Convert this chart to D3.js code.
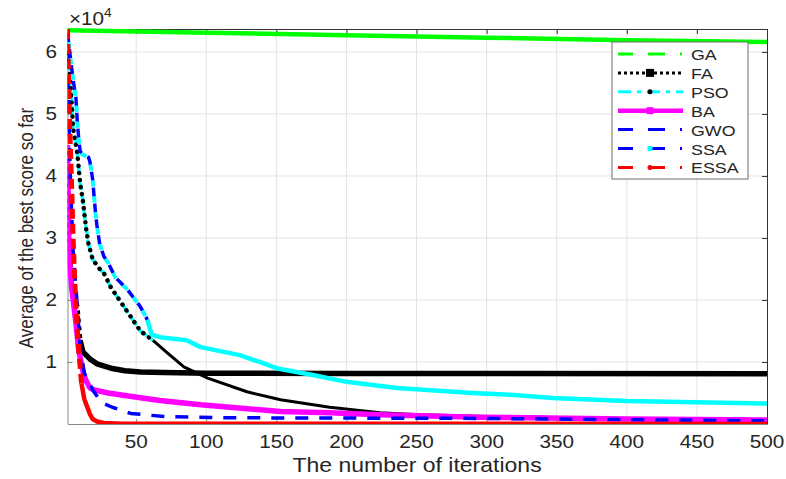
<!DOCTYPE html>
<html lang="en">
<head>
<meta charset="UTF-8">
<title>Convergence curves</title>
<style>
  body { margin: 0; background: #fff; }
  svg { display: block; }
  text { font-family: "Liberation Sans", Arial, sans-serif; fill: #262626; }
</style>
</head>
<body>
<script src="https://cdn.jsdelivr.net/npm/d3@7/dist/d3.min.js"></script>
<script>
const gaIter = [1, 100, 200, 300, 400, 500];
const gaVal = [6.35, 6.31, 6.27, 6.23, 6.19, 6.16];

const faIter = [1, 2, 4, 6, 8, 10, 12, 17, 22, 32, 42, 53, 70, 100, 200, 500];
const faVal = [4.4, 3.1, 2.3, 2.05, 1.9, 1.35, 1.16, 1.05, 0.97, 0.9, 0.86, 0.84, 0.83, 0.82, 0.815, 0.81];

const psoIter = [1, 2, 3, 4, 5, 8, 10, 12, 14, 16, 19, 24, 27, 32, 44, 53, 62, 72, 84, 101, 129, 153, 188, 224, 252, 300, 400, 500];
const psoVal = [6.1, 5.8, 5.5, 5.18, 4.77, 4.37, 3.89, 3.6, 3.2, 2.9, 2.65, 2.5, 2.43, 2.2, 1.8, 1.5, 1.35, 1.15, 0.92, 0.74, 0.52, 0.39, 0.27, 0.18, 0.15, 0.12, 0.09, 0.07];

const baIter = [1, 2, 4, 7, 9, 12, 14, 17, 20, 30, 48, 67, 96, 117, 153, 188, 224, 295, 400, 500];
const baVal = [4.5, 2.8, 2.2, 1.63, 1.19, 0.85, 0.71, 0.58, 0.55, 0.5, 0.44, 0.38, 0.31, 0.27, 0.2, 0.18, 0.15, 0.11, 0.08, 0.065];

const gwoIter = [1, 2, 3, 5, 8, 10, 13, 19, 25, 29, 33, 46, 70, 117, 300, 500];
const gwoVal = [6.0, 5.0, 4.0, 2.8, 1.9, 1.24, 0.82, 0.55, 0.35, 0.31, 0.27, 0.17, 0.12, 0.1, 0.09, 0.05];

const ssaIter = [1, 3, 5, 7, 8, 9, 10, 12, 16, 17, 19, 20, 21, 22, 24, 27, 30, 35, 44, 53, 58, 61, 67, 86, 96, 124, 138, 150, 176, 200, 236, 290, 317, 347, 400, 500];
const ssaVal = [6.3, 5.92, 5.55, 5.26, 4.87, 4.6, 4.4, 4.34, 4.3, 4.23, 3.94, 3.66, 3.4, 3.2, 2.9, 2.7, 2.6, 2.37, 2.16, 1.89, 1.68, 1.44, 1.4, 1.35, 1.24, 1.11, 1.0, 0.9, 0.79, 0.68, 0.58, 0.5, 0.47, 0.42, 0.37, 0.33];

const essaIter = [1, 2, 3, 4, 5, 6, 7, 9, 11, 13, 15, 17, 19, 22, 27, 40, 500];
const essaVal = [6.37, 5.3, 4.5, 3.8, 3.0, 2.4, 1.9, 1.2, 0.65, 0.4, 0.28, 0.16, 0.08, 0.04, 0.015, 0.005, 0.002];

const seriesNames = ['GA', 'FA', 'PSO', 'BA', 'GWO', 'SSA', 'ESSA'];
const iterTicks = [50, 100, 150, 200, 250, 300, 350, 400, 450, 500];
const scoreTicks = [1, 2, 3, 4, 5, 6];

const W = 786, H = 479;
const pl = 67.5, pr = 767, pt = 29, pb = 424;
const sx = 1.15; // the picture's text is a bit wide

const x = d3.scaleLinear().domain([1, 500]).range([pl, pr]);
const y = d3.scaleLinear().domain([0, 6.37]).range([pb, pt]);

const svg = d3.select('body').append('svg')
  .attr('width', W).attr('height', H);

svg.append('defs').append('clipPath').attr('id', 'plot')
  .append('rect').attr('x', pl).attr('y', pt - 3)
  .attr('width', pr - pl + 3).attr('height', pb - pt + 3);

// grid
const grid = svg.append('g').attr('stroke', '#e3e3e3').attr('stroke-width', 1);
grid.selectAll('.gx').data(iterTicks.slice(0, -1)).enter().append('line')
  .attr('x1', d => x(d)).attr('x2', d => x(d)).attr('y1', pt).attr('y2', pb);
grid.selectAll('.gy').data(scoreTicks).enter().append('line')
  .attr('y1', d => y(d)).attr('y2', d => y(d)).attr('x1', pl).attr('x2', pr);

// axes with inward ticks
const xAxis = svg.append('g').attr('transform', `translate(0,${pb})`)
  .call(d3.axisBottom(x).tickValues(iterTicks).tickSizeInner(-5).tickSizeOuter(0).tickFormat(''));
const yAxis = svg.append('g').attr('transform', `translate(${pl},0)`)
  .call(d3.axisLeft(y).tickValues(scoreTicks).tickSizeInner(-5).tickSizeOuter(0).tickFormat(''));
xAxis.selectAll('path,line').attr('stroke', '#8a8a8a');
yAxis.selectAll('path,line').attr('stroke', '#8a8a8a');
const xTop = svg.append('g').attr('transform', `translate(0,${pt})`)
  .call(d3.axisTop(x).tickValues(iterTicks).tickSizeInner(-5).tickSizeOuter(0).tickFormat(''));
const yRight = svg.append('g').attr('transform', `translate(${pr},0)`)
  .call(d3.axisRight(y).tickValues(scoreTicks).tickSizeInner(-5).tickSizeOuter(0).tickFormat(''));
xTop.selectAll('path,line').attr('stroke', '#333');
yRight.selectAll('path,line').attr('stroke', '#333');

// tick labels
svg.append('g').selectAll('text').data(iterTicks).enter().append('text')
  .attr('transform', d => `translate(${x(d)},448) scale(${sx},1)`)
  .attr('text-anchor', 'middle').attr('font-size', 18)
  .text(d => d);
svg.append('g').selectAll('text').data(scoreTicks).enter().append('text')
  .attr('transform', d => `translate(57,${y(d) + 6}) scale(${sx},1)`)
  .attr('text-anchor', 'end').attr('font-size', 18)
  .text(d => d);

const exp = svg.append('text').attr('transform', `translate(69,25) scale(${sx},1)`)
  .attr('font-size', 18);
exp.append('tspan').text('\u00d710');
exp.append('tspan').attr('font-size', 12).attr('dy', -8).text('4');

svg.append('text').attr('transform', `translate(417,472) scale(${sx},1)`)
  .attr('text-anchor', 'middle').attr('font-size', 20)
  .text('The number of iterations');
svg.append('text').attr('transform', `translate(33,228) scale(${sx},1) rotate(-90)`)
  .attr('text-anchor', 'middle').attr('font-size', 17)
  .text('Average of the best score so far');

// curves
const line = d3.line().x(d => x(d.i)).y(d => y(d.v));
const pts = (it, vals) => it.map((d, k) => ({ i: d, v: vals[k] }));
const plot = svg.append('g').attr('clip-path', 'url(#plot)').attr('fill', 'none');

function draw(data, color, width, dash, cap) {
  plot.append('path').datum(data)
    .attr('d', line)
    .attr('stroke', color)
    .attr('stroke-width', width)
    .attr('stroke-dasharray', dash || null)
    .attr('stroke-linecap', cap || 'butt')
    .attr('stroke-linejoin', 'round');
}

const ga = pts(gaIter, gaVal);
const fa = pts(faIter, faVal);
const pso = pts(psoIter, psoVal);
const ba = pts(baIter, baVal);
const gwo = pts(gwoIter, gwoVal);
const ssa = pts(ssaIter, ssaVal);
const essa = pts(essaIter, essaVal);

draw(ga, '#00ff00', 4.5);

draw(fa.filter(d => d.i <= 10), '#000', 4.5, '4,4');
draw(fa.filter(d => d.i >= 10), '#000', 5.5);

draw(pso.filter(d => d.i <= 62), '#00ffff', 3.5, '10,5');
draw(pso.filter(d => d.i <= 62), '#000', 4.5, '0.1,7', 'round');
draw(pso.filter(d => d.i >= 62), '#000', 3);

draw(ba, '#ff00ff', 5.5);

draw(gwo, '#0000ff', 3.5, '13,11');

draw(ssa.filter(d => d.i <= 58), '#0000ff', 3.5, '9,7');
draw(ssa.filter(d => d.i <= 58), '#00ffff', 4, '0,9,6,1');
draw(ssa.filter(d => d.i >= 58), '#00ffff', 4.5);

draw(essa.filter(d => d.i <= 11), '#ff0000', 5, '10,5');
draw(essa.filter(d => d.i >= 11), '#ff0000', 4.5);

// legend
const legendStyle = [
  { color: '#00ff00', width: 3, dash: '15,15,17,15,2', mark: null },
  { color: '#000', width: 3, dash: '3,3', mark: { shape: 'sq', color: '#000', size: 8 } },
  { color: '#00ffff', width: 3, dash: '13,6,4,6', mark: { shape: 'dot', color: '#000', size: 5 } },
  { color: '#ff00ff', width: 4.5, dash: null, mark: { shape: 'sq', color: '#ff00ff', size: 7 } },
  { color: '#0000ff', width: 3, dash: '15,15,17,15,2', mark: null },
  { color: '#0000ff', width: 3, dash: '15,15,17,15,2', mark: { shape: 'sq', color: '#00ffff', size: 5 } },
  { color: '#ff0000', width: 3, dash: '15,15,17,15,2', mark: { shape: 'dot', color: '#ff0000', size: 5 } }
];
const lg = svg.append('g');
lg.append('rect').attr('x', 612).attr('y', 42).attr('width', 136).attr('height', 137)
  .attr('fill', '#fff').attr('stroke', '#6e6e6e').attr('stroke-width', 1);
const rows = lg.selectAll('g.row').data(seriesNames).enter().append('g')
  .attr('transform', (d, k) => `translate(0,${54 + k * 18.9})`);
rows.append('line')
  .attr('x1', 618).attr('x2', 683).attr('y1', 0).attr('y2', 0)
  .attr('stroke', (d, k) => legendStyle[k].color)
  .attr('stroke-width', (d, k) => legendStyle[k].width)
  .attr('stroke-dasharray', (d, k) => legendStyle[k].dash);
rows.each(function (d, k) {
  const m = legendStyle[k].mark;
  if (!m) return;
  const g = d3.select(this);
  if (m.shape === 'sq') {
    g.append('rect').attr('x', 650 - m.size / 2).attr('y', -m.size / 2)
      .attr('width', m.size).attr('height', m.size).attr('fill', m.color);
  } else {
    g.append('circle').attr('cx', 650).attr('cy', 0).attr('r', m.size / 2).attr('fill', m.color);
  }
});
rows.append('text')
  .attr('transform', `translate(691,6) scale(${sx},1)`)
  .attr('font-size', 15.5)
  .text(d => d);
</script>
</body>
</html>
